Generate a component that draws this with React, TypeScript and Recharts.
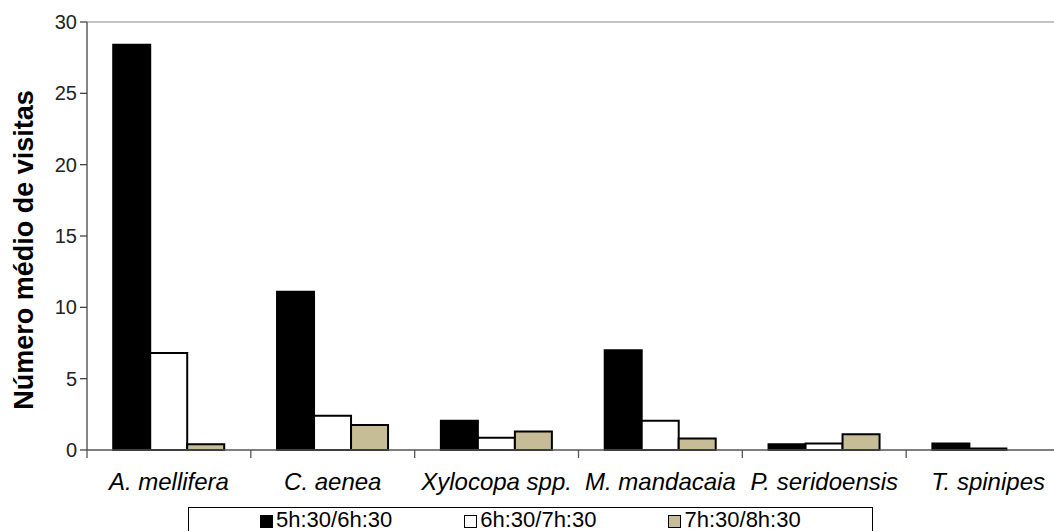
import React from "react";
import { BarChart, Bar, XAxis, YAxis, Legend, ReferenceLine } from "recharts";

const categories = ["A. mellifera", "C. aenea", "Xylocopa spp.", "M. mandacaia", "P. seridoensis", "T. spinipes"];
const series1 = [28.4, 11.1, 2.05, 7.0, 0.4, 0.45];
const series2 = [6.8, 2.4, 0.85, 2.05, 0.45, 0.1];
const series3 = [0.4, 1.75, 1.3, 0.8, 1.1, 0];
const seriesNames = ["5h:30/6h:30", "6h:30/7h:30", "7h:30/8h:30"];
const seriesColors = ["#000000", "#ffffff", "#c6bd97"];
const yTicks = [0, 5, 10, 15, 20, 25, 30];

const data = categories.map((c, i) => ({ name: c, s1: series1[i], s2: series2[i], s3: series3[i] }));

const FONT = "'Liberation Sans', Arial, sans-serif";

const XTick = (props: any) => {
  const { x, y, payload } = props;
  const off = payload && typeof payload.offset === "number" ? payload.offset : 82;
  return (
    <g>
      <line x1={x - off} x2={x - off} y1={y - 8} y2={y} stroke="#555" strokeWidth={1.3} />
      <text x={x} y={y + 32} textAnchor="middle" fontSize={24} fontStyle="italic" fontFamily={FONT} fill="#000">
        {payload.value}
      </text>
    </g>
  );
};

const LegendBox = () => (
  <div
    style={{
      boxSizing: "border-box",
      width: 685,
      height: 24,
      borderTop: "1px solid #000",
      borderLeft: "1px solid #000",
      borderRight: "1px solid #000",
      background: "#fff",
      display: "flex",
      alignItems: "flex-start",
      paddingTop: 2,
      paddingLeft: 71,
      fontFamily: FONT,
      fontSize: 22,
      color: "#000",
      lineHeight: "20px",
    }}
  >
    {seriesNames.map((n, i) => (
      <div key={n} style={{ display: "flex", alignItems: "center", marginRight: 72 }}>
        <span
          style={{
            display: "inline-block",
            width: 11,
            height: 11,
            border: "1.5px solid #000",
            background: seriesColors[i],
            marginRight: 3,
            marginTop: 3,
          }}
        />
        <span>{n}</span>
      </div>
    ))}
  </div>
);

export default function App() {
  return (
    <div style={{ position: "absolute", left: 0, top: 0, width: 1054, height: 531, overflow: "hidden", background: "#fff" }}>
      <BarChart
        width={1100}
        height={531}
        data={data}
        margin={{ top: 22, right: 30, left: 0, bottom: 31 }}
        barCategoryGap="16%"
        barGap={0}
      >
        <ReferenceLine y={30} stroke="#888" strokeWidth={1.2} />
        <XAxis
          dataKey="name"
          height={50}
          axisLine={{ stroke: "#555", strokeWidth: 1.3 }}
          tickLine={false}
          tick={<XTick />}
          interval={0}
        />
        <YAxis
          width={87}
          domain={[0, 30]}
          ticks={yTicks}
          tickSize={7}
          tickMargin={3}
          axisLine={{ stroke: "#444", strokeWidth: 1.3 }}
          tickLine={{ stroke: "#444", strokeWidth: 1.3 }}
          tick={{ fontSize: 20, fill: "#222", fontFamily: FONT }}
          interval={0}
        />
        <Legend
          verticalAlign="middle"
          align="center"
          layout="horizontal"
          wrapperStyle={{ left: 188, top: 507, width: 685, height: 24 }}
          content={() => <LegendBox />}
        />
        <Bar dataKey="s1" name={seriesNames[0]} fill={seriesColors[0]} stroke="#000" strokeWidth={2} isAnimationActive={false} />
        <Bar dataKey="s2" name={seriesNames[1]} fill={seriesColors[1]} stroke="#000" strokeWidth={2} isAnimationActive={false} />
        <Bar dataKey="s3" name={seriesNames[2]} fill={seriesColors[2]} stroke="#000" strokeWidth={2} isAnimationActive={false} />
      </BarChart>
      <svg style={{ position: "absolute", left: 0, top: 0, pointerEvents: "none" }} width={60} height={531}>
        <text
          transform="translate(33,250) rotate(-90)"
          textAnchor="middle"
          fontSize={27}
          fontWeight="bold"
          fontFamily={FONT}
          fill="#000"
        >
          Número médio de visitas
        </text>
      </svg>
    </div>
  );
}
